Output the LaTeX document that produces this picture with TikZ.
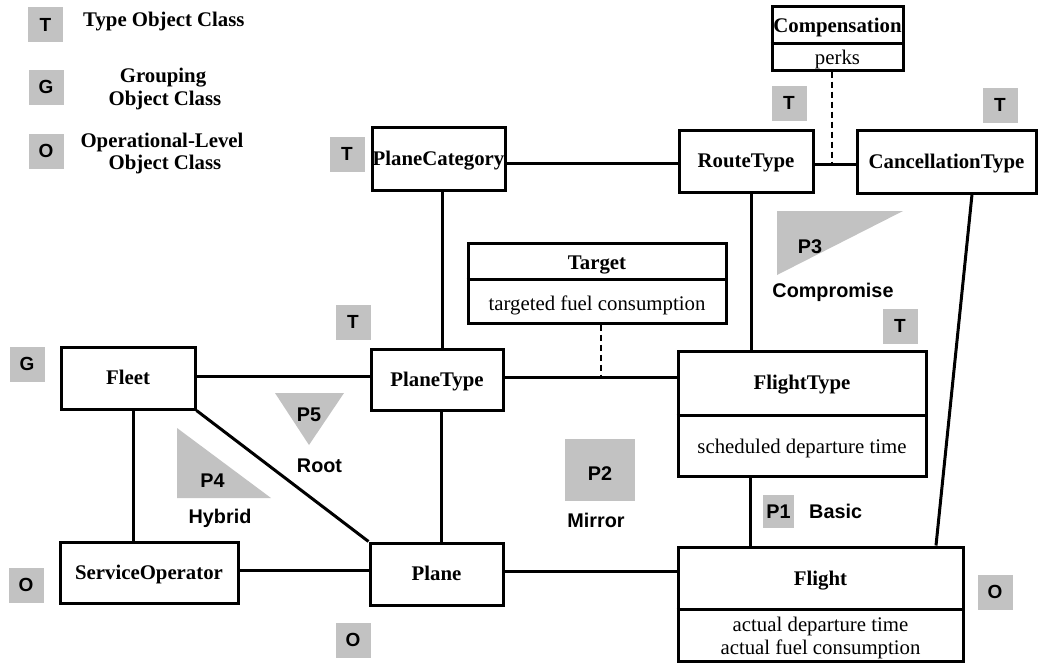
\documentclass[tikz,border=0pt]{standalone}
\usepackage{fontspec}
\setmainfont{Liberation Serif}
\setsansfont{Liberation Sans}
\newcommand\clsfont{\fontsize{20.8}{24}\selectfont\bfseries}
\newcommand\attrfont{\fontsize{20.8}{24}\selectfont}
\newcommand\patfont{\fontsize{19.8}{23}\selectfont\sffamily\bfseries}
\newcommand\tagfont{\fontsize{19}{22}\selectfont\sffamily\bfseries}
\definecolor{taggray}{RGB}{194,194,194}
\begin{document}
\begin{tikzpicture}[x=1pt,y=-1pt,
  cls/.style={draw, line width=3pt, fill=white, inner sep=0pt, font=\clsfont,
    text height=13.8pt, text depth=0pt},
  title/.style={inner sep=0pt, font=\clsfont, text height=13.8pt, text depth=0pt},
  attr/.style={inner sep=0pt, font=\attrfont, text height=13.8pt, text depth=0pt},
  legend/.style={inner sep=0pt, font=\clsfont, text height=13.8pt, text depth=0pt},
  tag/.style={fill=taggray, inner sep=0pt, minimum width=35pt, minimum height=35pt,
    font=\tagfont, text height=13.6pt, text depth=0pt},
  pat/.style={inner sep=0pt, font=\patfont, text height=14.2pt, text depth=0pt},
  link/.style={line width=3pt},
  note/.style={line width=2.2pt, dash pattern=on 6pt off 4pt}]

\fill[white] (0,0) rectangle (1044,664);
\useasboundingbox (0,0) rectangle (1044,664);

% legend
\node[tag] (lgT) at (45.5,24.5) {T};
\node[legend, anchor=west] (lgTtxt) at (83,19.5) {Type Object Class};
\node[tag] (lgG) at (46,87) {G};
\node[legend] (lgGtxt1) at (163,76) {Grouping};
\node[legend] (lgGtxt2) at (165,98.5) {Object Class};
\node[tag] (lgO) at (46,151) {O};
\node[legend] (lgOtxt1) at (162,141) {Operational-Level};
\node[legend] (lgOtxt2) at (165,162.5) {Object Class};

% pattern markers
\fill[taggray] (777,211) -- (903,211) -- (777,275) -- cycle;
\node[pat] (p3) at (810,246) {P3};
\node[pat] (p3name) at (833,290) {Compromise};
\fill[taggray] (177,428) -- (177,498) -- (271,498) -- cycle;
\node[pat] (p4) at (212.5,480) {P4};
\node[pat] (p4name) at (220,516.5) {Hybrid};
\fill[taggray] (275,393) -- (344,393) -- (309,445) -- cycle;
\node[pat] (p5) at (309,414) {P5};
\node[pat] (p5name) at (319.5,465) {Root};
\fill[taggray] (565,439) rectangle (635,501);
\node[pat] (p2) at (600,473.5) {P2};
\node[pat] (p2name) at (596,520) {Mirror};
\node[tag, minimum width=31pt, minimum height=33pt, font=\patfont, text height=14.2pt] (p1) at (778.5,511.5) {P1};
\node[pat, anchor=west] (p1name) at (809,511.5) {Basic};

% single-compartment classes
\node[cls, minimum width=133pt, minimum height=63pt] (pc) at (438.5,158.5) {PlaneCategory};
\node[cls, minimum width=134pt, minimum height=62pt] (rt) at (746,161) {RouteType};
\node[cls, minimum width=179pt, minimum height=63pt] (ct) at (946.5,161.5) {CancellationType};
\node[cls, minimum width=134pt, minimum height=62pt] (fleet) at (128,378) {Fleet};
\node[cls, minimum width=132pt, minimum height=61pt] (pt) at (437,379.5) {PlaneType};
\node[cls, minimum width=178pt, minimum height=61pt] (so) at (149,572.5) {ServiceOperator};
\node[cls, minimum width=133pt, minimum height=62pt] (pl) at (436.5,574) {Plane};

% two-compartment classes
\node[cls, minimum width=131pt, minimum height=64pt] (comp) at (837.5,38) {};
\draw[link] (comp.west |- 0,43) -- (comp.east |- 0,43);
\node[title] (compT) at (837.5,25.5) {Compensation};
\node[attr] (compA) at (837.5,58) {perks};

\node[cls, minimum width=258pt, minimum height=80pt] (tg) at (597,283) {};
\draw[link] (tg.west |- 0,279) -- (tg.east |- 0,279);
\node[title] (tgT) at (597,262.5) {Target};
\node[attr] (tgA) at (597,303.5) {targeted fuel consumption};

\node[cls, minimum width=248pt, minimum height=125pt] (ft) at (802,413.5) {};
\draw[link] (ft.west |- 0,415) -- (ft.east |- 0,415);
\node[title] (ftT) at (802,383) {FlightType};
\node[attr] (ftA) at (802,446.5) {scheduled departure time};

\node[cls, minimum width=285pt, minimum height=114pt] (fl) at (820.5,604) {};
\draw[link] (fl.west |- 0,609) -- (fl.east |- 0,609);
\node[title] (flT) at (820.5,578.5) {Flight};
\node[attr] (flA1) at (820.5,624.5) {actual departure time};
\node[attr] (flA2) at (820.5,648) {actual fuel consumption};

% type tags
\node[tag] (tPC) at (347,154) {T};
\node[tag] (tRT) at (789,103) {T};
\node[tag] (tCT) at (1000,105) {T};
\node[tag] (tPT) at (353,322) {T};
\node[tag] (tFT) at (900,326) {T};
\node[tag] (tFleet) at (27,364) {G};
\node[tag] (tSO) at (26,585) {O};
\node[tag] (tPl) at (353,640) {O};
\node[tag] (tFl) at (995,592) {O};

% associations
\coordinate (cj) at (832,164);
\coordinate (tj) at (601,377);
\draw[link] (pc.east |- 0,163) -- (rt.west |- 0,163);
\draw[link] (rt.east |- cj) -- (ct.west |- cj);
\draw[note] (comp.south -| cj) -- (cj);
\draw[link] (pc.south -| 442,0) -- (pt.north -| 442,0);
\draw[link] (pt.south -| 441,0) -- (pl.north -| 441,0);
\draw[link] (rt.south -| 751,0) -- (ft.north -| 751,0);
\draw[link] (ft.south -| 750,0) -- (fl.north -| 750,0);
\draw[link] (ct.south -| 972,0) -- (fl.north -| 936,0);
\draw[link] (fleet.east |- 0,376) -- (pt.west |- 0,376);
\draw[link] (pt.east |- tj) -- (ft.west |- tj);
\draw[note] (tg.south -| tj) -- (tj);
\draw[link] (fleet.south -| 133,0) -- (so.north -| 133,0);
\draw[link] (fleet.south east) -- (pl.north west);
\draw[link] (so.east |- 0,570) -- (pl.west |- 0,570);
\draw[link] (pl.east |- 0,571) -- (fl.west |- 0,571);
\end{tikzpicture}
\end{document}
